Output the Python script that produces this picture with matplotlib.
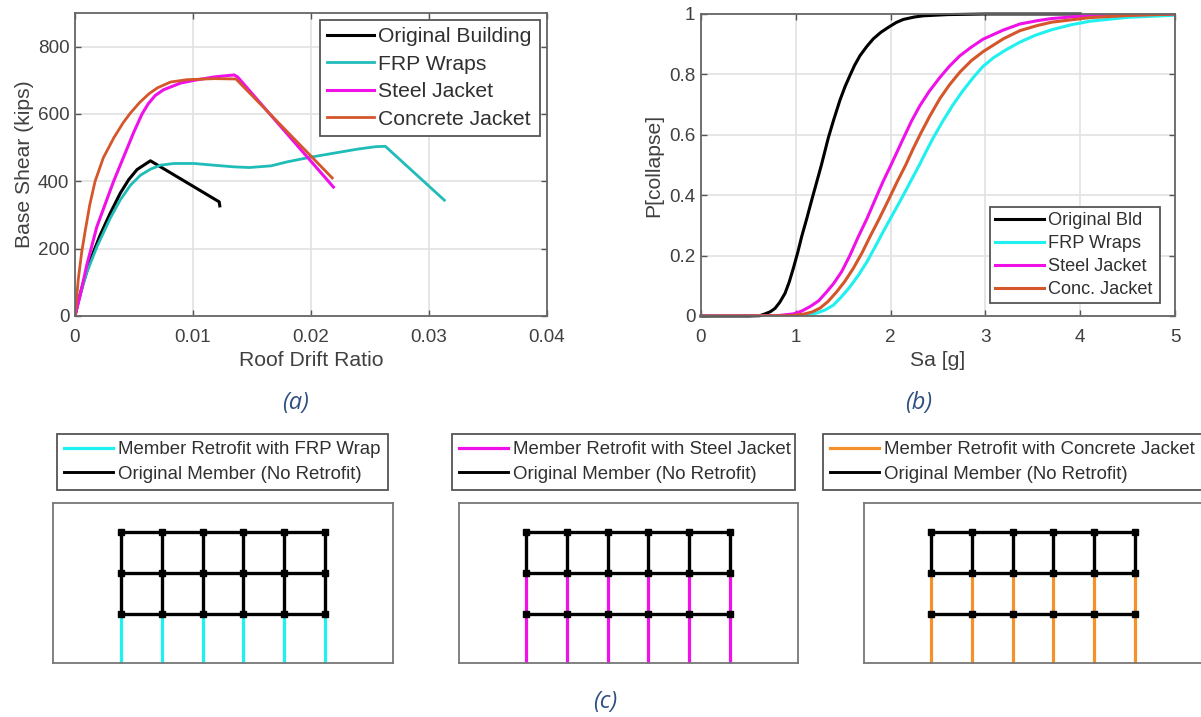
import matplotlib
matplotlib.use("Agg")
import matplotlib.pyplot as plt
from matplotlib.lines import Line2D

plt.rcParams['font.family'] = ['Liberation Sans', 'DejaVu Sans']

W, H = 1201, 717
TXT = '#404040'
BLACK, TEAL, CYAN, MAG, RUST, ORANGE = '#000000', '#1fbcb8', '#1ff0f0', '#f010e8', '#d4562a', '#f5912a'

# (a) pushover curves
orig_x = [0, .00028, .00071, .00128, .00213, .00298, .00384, .00455, .00526, .00639, .01222, .01227]
orig_y = [0, 45, 100, 165, 240, 305, 365, 405, 435, 461, 339, 327]
frp_x = [0, .00043, .00099, .00185, .00298, .00384, .00469, .00554, .00639, .00724, .00838, .01009, .01207, .01349, .01477, .01662, .018, .02, .022, .024, .0255, .0263, .0313]
frp_y = [0, 62, 128, 205, 290, 345, 388, 418, 436, 448, 453, 453, 447, 443, 441, 446, 458, 472, 484, 496, 503, 504, 344]
steel_x = [0, .00043, .00099, .00185, .00327, .00497, .00568, .0062, .0068, .0075, .00895, .01009, .01179, .01349, .01378, .0219]
steel_y = [0, 60, 150, 265, 400, 545, 600, 630, 655, 672, 692, 700, 710, 716, 710, 383]
conc_x = [0, .00028, .00057, .00085, .00125, .0017, .0024, .0033, .0041, .0047, .0055, .0063, .007, .0081, .0095, .0118, .01364, .0218]
conc_y = [0, 110, 190, 250, 330, 400, 470, 530, 575, 603, 635, 661, 678, 695, 702, 705, 704, 410]
a_xticks = [0, .01, .02, .03, .04]
a_xlabels = ['0', '0.01', '0.02', '0.03', '0.04']
a_yticks = [0, 200, 400, 600, 800]
a_names = ['Original Building', 'FRP Wraps', 'Steel Jacket', 'Concrete Jacket']

# (b) fragility curves
f_orig_x = [0, .5, .62, .675, .73, .78, .83, .886, .93, .974, 1.02, 1.062, 1.115, 1.168, 1.22, 1.27, 1.343, 1.4, 1.466, 1.52, 1.572, 1.62, 1.677, 1.75, 1.818, 1.9, 1.987, 2.06, 2.134, 2.25, 2.345, 2.6, 3, 4]
f_orig_y = [0, 0, .001, .007, .014, .025, .045, .075, .112, .158, .21, .263, .322, .384, .443, .5, .59, .65, .715, .76, .797, .83, .862, .893, .918, .94, .958, .972, .982, .99, .994, .998, 1, 1]
f_frp_x = [0, 1.08, 1.15, 1.22, 1.31, 1.396, 1.48, 1.572, 1.66, 1.748, 1.83, 1.923, 2.02, 2.117, 2.21, 2.303, 2.38, 2.45, 2.55, 2.66, 2.76, 2.873, 2.97, 3.084, 3.22, 3.365, 3.53, 3.7, 3.9, 4.1, 4.5, 5]
f_frp_y = [0, .002, .005, .01, .02, .036, .063, .097, .135, .178, .225, .28, .335, .39, .445, .5, .548, .59, .645, .7, .745, .79, .825, .855, .882, .907, .93, .948, .964, .976, .989, .996]
f_steel_x = [0, .8, .974, 1.06, 1.15, 1.24, 1.326, 1.4, 1.484, 1.57, 1.66, 1.75, 1.835, 1.92, 2.004, 2.134, 2.22, 2.31, 2.41, 2.52, 2.62, 2.732, 2.85, 2.978, 3.19, 3.365, 3.55, 3.7, 4.1, 5]
f_steel_y = [0, .001, .007, .016, .031, .05, .08, .108, .147, .2, .263, .322, .384, .445, .5, .588, .645, .697, .745, .79, .827, .862, .89, .917, .947, .967, .978, .985, .995, 1]
f_conc_x = [0, .94, 1.08, 1.17, 1.255, 1.34, 1.431, 1.52, 1.607, 1.7, 1.783, 1.88, 1.977, 2.07, 2.159, 2.235, 2.31, 2.41, 2.52, 2.62, 2.732, 2.85, 2.978, 3.19, 3.365, 3.55, 3.7, 4.1, 4.5, 5]
f_conc_y = [0, .001, .006, .013, .026, .048, .08, .116, .158, .21, .263, .322, .384, .445, .5, .552, .6, .66, .72, .765, .808, .845, .876, .918, .945, .962, .973, .988, .995, 1]
b_xticks = [0, 1, 2, 3, 4, 5]
b_yticks = [0, .2, .4, .6, .8, 1]
b_ylabels = ['0', '0.2', '0.4', '0.6', '0.8', '1']
b_names = ['Original Bld', 'FRP Wraps', 'Steel Jacket', 'Conc. Jacket']

# (c) frames
col_lines = [0, 1, 2, 3, 4, 5]
floor_levels = [0, 12, 22, 32]
retrofit_top = [12, 22, 22]
c_retrofit_names = ['Member Retrofit with FRP Wrap', 'Member Retrofit with Steel Jacket', 'Member Retrofit with Concrete Jacket']
c_original_name = 'Original Member (No Retrofit)'


def box(l, t, r, b):
    return [l / W, 1 - b / H, (r - l) / W, (b - t) / H]


def legbox(ax, l, t, r, b, handles, labels, fs, **kw):
    leg = ax.legend(handles, labels, loc='upper left',
                    bbox_to_anchor=(l / W, 1 - b / H, (r - l) / W, (b - t) / H),
                    bbox_transform=ax.figure.transFigure, mode='expand',
                    borderaxespad=0, fontsize=fs, fancybox=False, framealpha=1,
                    edgecolor='#555555', labelcolor='#303030', **kw)
    leg.get_frame().set_linewidth(1.3)
    return leg


fig = plt.figure(figsize=(W / 100, H / 100), dpi=100, facecolor='white')


def style(ax, xt, xl, yt, yl):
    ax.set_xticks(xt, xl)
    ax.set_yticks(yt, yl)
    ax.grid(True, color='#e2e2e2', lw=1.2)
    ax.set_axisbelow(True)
    ax.tick_params(direction='in', top=True, right=True, length=4, width=1,
                   color='#555555', labelsize=13.6, labelcolor=TXT)
    ax.tick_params(axis='x', pad=9)
    ax.tick_params(axis='y', pad=4)
    for s in ax.spines.values():
        s.set_color('#666666')
        s.set_linewidth(1.3)


# panel a
ax = fig.add_axes(box(75, 13, 547, 316))
ln = [ax.plot(orig_x, orig_y, color=BLACK, lw=2.2)[0],
      ax.plot(frp_x, frp_y, color=TEAL, lw=2)[0],
      ax.plot(steel_x, steel_y, color=MAG, lw=2.2)[0],
      ax.plot(conc_x, conc_y, color=RUST, lw=2)[0]]
ax.set_xlim(0, .04)
ax.set_ylim(0, 900)
style(ax, a_xticks, a_xlabels, a_yticks, [str(v) for v in a_yticks])
ax.set_xlabel('Roof Drift Ratio', fontsize=15.2, color=TXT, labelpad=4)
ax.set_ylabel('Base Shear (kips)', fontsize=15.2, color=TXT, labelpad=3)
legbox(ax, 320, 20, 540, 136, ln, a_names, 15.2, handlelength=2.2, labelspacing=0.4,
       handletextpad=0.2, borderpad=0.34)

# panel b
ax = fig.add_axes(box(701, 14, 1175, 316))
ln = [ax.plot(f_orig_x, f_orig_y, color=BLACK, lw=2.2, clip_on=False)[0],
      ax.plot(f_frp_x, f_frp_y, color=CYAN, lw=2.2)[0],
      ax.plot(f_steel_x, f_steel_y, color=MAG, lw=2.2)[0],
      ax.plot(f_conc_x, f_conc_y, color=RUST, lw=2.2)[0]]
ax.set_xlim(0, 5)
ax.set_ylim(0, 1)
style(ax, b_xticks, [str(v) for v in b_xticks], b_yticks, b_ylabels)
ax.set_xlabel('Sa [g]', fontsize=15.2, color=TXT, labelpad=4)
ax.set_ylabel('P[collapse]', fontsize=15.2, color=TXT, labelpad=4)
legbox(ax, 990, 207, 1160, 301, ln, b_names, 13.1, handlelength=2.65, labelspacing=0.32,
       handletextpad=0.25, borderpad=0.3)

# panel c
frames = [((53, 393), (57, 388), 121, CYAN), ((459, 798), (452, 795), 526, MAG), ((864, 1204), (823, 1204), 931, ORANGE)]
for ((l, r), (ll, lr), x0, colr), name, rtop in zip(frames, c_retrofit_names, retrofit_top):
    ax = fig.add_axes(box(l, 503, r, 663))
    for x in col_lines:
        ax.plot([x, x], [floor_levels[0], rtop], color=colr, lw=2.3, solid_capstyle='butt', clip_on=False)
        ax.plot([x, x], [rtop, floor_levels[3]], color=BLACK, lw=2.4, solid_capstyle='butt')
    for lev in floor_levels[1:]:
        ax.plot([col_lines[0], col_lines[-1]], [lev, lev], color=BLACK, lw=2.4)
        ax.plot(col_lines, [lev] * len(col_lines), ls='none', marker='s', ms=5, color=BLACK)
    ax.set_xlim((l - x0) / 40.8, (r - x0) / 40.8)
    ax.set_ylim(0, 39)
    ax.set_xticks([])
    ax.set_yticks([])
    for s in ax.spines.values():
        s.set_color('#777777')
        s.set_linewidth(1.3)
    h = [Line2D([], [], color=colr, lw=2.3), Line2D([], [], color=BLACK, lw=2.1)]
    legbox(ax, ll, 434, lr, 488, h, [name, c_original_name], 13.4, handlelength=2.63,
           labelspacing=0.42, handletextpad=0.25, borderpad=0.38)

# captions
for txt, x, y in [('(a)', 296, 403), ('(b)', 919, 403), ('(c)', 605, 702)]:
    fig.text(x / W, 1 - y / H, txt, ha='center', va='center', style='italic',
             fontsize=17, color='#2f5080', family='Open Sans')

fig.savefig('out.png', dpi=100)
